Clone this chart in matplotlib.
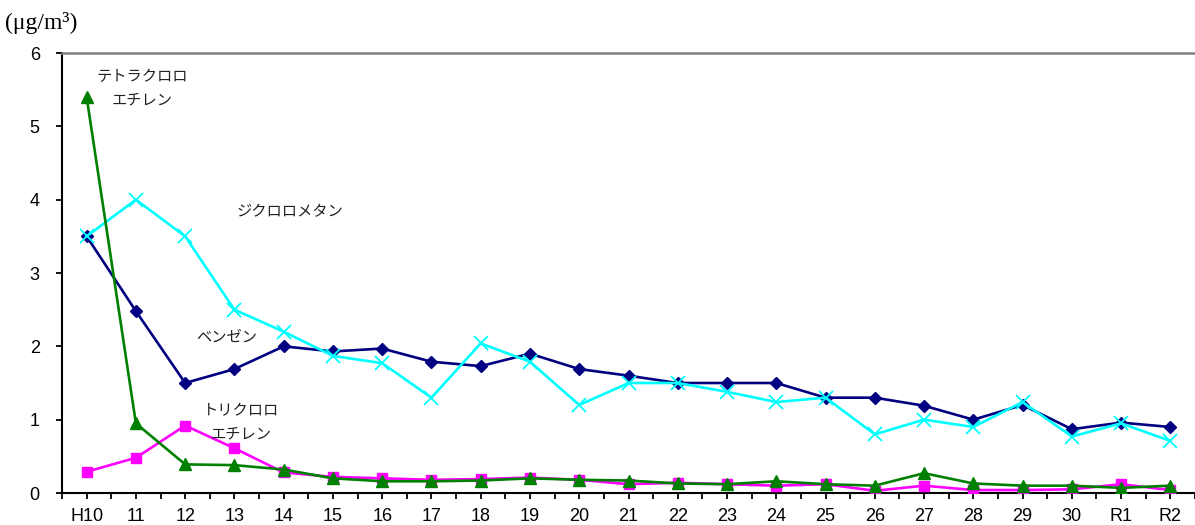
import matplotlib
matplotlib.use("Agg")
import matplotlib.pyplot as plt
import numpy as np

categories = ["H10", "11", "12", "13", "14", "15", "16", "17", "18", "19", "20",
              "21", "22", "23", "24", "25", "26", "27", "28", "29", "30", "R1", "R2"]

benzene = [3.5, 2.48, 1.5, 1.69, 2.0, 1.93, 1.97, 1.79, 1.73, 1.9, 1.69,
           1.6, 1.5, 1.5, 1.5, 1.3, 1.3, 1.19, 1.0, 1.2, 0.87, 0.96, 0.9]
dichloromethane = [3.5, 4.0, 3.5, 2.5, 2.2, 1.87, 1.77, 1.3, 2.04, 1.79, 1.2,
                   1.5, 1.5, 1.38, 1.24, 1.3, 0.8, 1.0, 0.9, 1.24, 0.77, 0.95, 0.71]
trichloroethylene = [0.29, 0.48, 0.92, 0.61, 0.28, 0.22, 0.2, 0.18, 0.19, 0.21, 0.18,
                     0.12, 0.14, 0.12, 0.1, 0.12, 0.03, 0.1, 0.04, 0.04, 0.05, 0.12, 0.04]
tetrachloroethylene = [5.4, 0.95, 0.39, 0.38, 0.32, 0.2, 0.16, 0.16, 0.17, 0.2, 0.18,
                       0.17, 0.13, 0.12, 0.16, 0.12, 0.1, 0.27, 0.13, 0.1, 0.1, 0.07, 0.1]

yticks = [0, 1, 2, 3, 4, 5, 6]

W, H = 1195, 525
fig = plt.figure(figsize=(W / 100, H / 100), dpi=100)
ax = fig.add_axes([62 / W, 1 - 493 / H, 1 - 62 / W, (493 - 53) / H])

x = np.arange(len(categories))
lw = 1.9
ax.plot(x, benzene, color="#000080", lw=lw, marker="D", ms=6.5, zorder=3)
ax.plot(x, dichloromethane, color="#00FFFF", lw=lw, marker="x", ms=10, mew=1.3, zorder=4)
ax.plot(x, trichloroethylene, color="#FF00FF", lw=lw, marker="s", ms=7.5, zorder=3)
ax.plot(x, tetrachloroethylene, color="#008000", lw=lw, marker="^", ms=8, zorder=5)

ax.set_xlim(-0.5, (W - 87) / 49.7)
ax.set_ylim(0, 6)

ax.set_xticks(x)
ax.set_xticklabels(categories)
ax.set_xticks(np.arange(-0.5, len(categories), 1.0), minor=True)
ax.set_yticks(yticks)
ax.set_yticklabels([str(v) for v in yticks])

for lab in ax.get_xticklabels() + ax.get_yticklabels():
    lab.set_fontfamily("Liberation Sans")
    lab.set_fontsize(13)
    lab.set_color("#000000")

ax.tick_params(axis="x", which="both", direction="out", length=4, width=1.3, color="black")
ax.tick_params(axis="x", which="major", pad=7)
ax.tick_params(axis="y", direction="out", length=4, width=1.3, color="black", pad=12)

ax.spines["right"].set_visible(False)
ax.spines["left"].set_color("black")
ax.spines["left"].set_linewidth(1.5)
ax.spines["bottom"].set_color("black")
ax.spines["bottom"].set_linewidth(1.5)
ax.spines["top"].set_color("#808080")
ax.spines["top"].set_linewidth(1.8)

jp = ["Noto Sans CJK JP", "DejaVu Sans"]
fs = 11
ax.text(1.12, 5.52, "テトラクロロ\nエチレン", ha="center", va="center", family=jp,
        fontsize=fs, linespacing=1.45, color="#222222")
ax.text(4.12, 3.83, "ジクロロメタン", ha="center", va="center", family=jp,
        fontsize=fs, color="#222222")
ax.text(2.84, 2.13, "ベンゼン", ha="center", va="center", family=jp,
        fontsize=fs, color="#222222")
ax.text(3.13, 0.96, "トリクロロ\nエチレン", ha="center", va="center", family=jp,
        fontsize=fs, linespacing=1.45, color="#222222")

fig.text(5 / W, 1 - 23 / H, "(μg/m³)", ha="left", va="center",
         family="Liberation Serif", fontsize=17)

fig.savefig("out.png", dpi=100)
